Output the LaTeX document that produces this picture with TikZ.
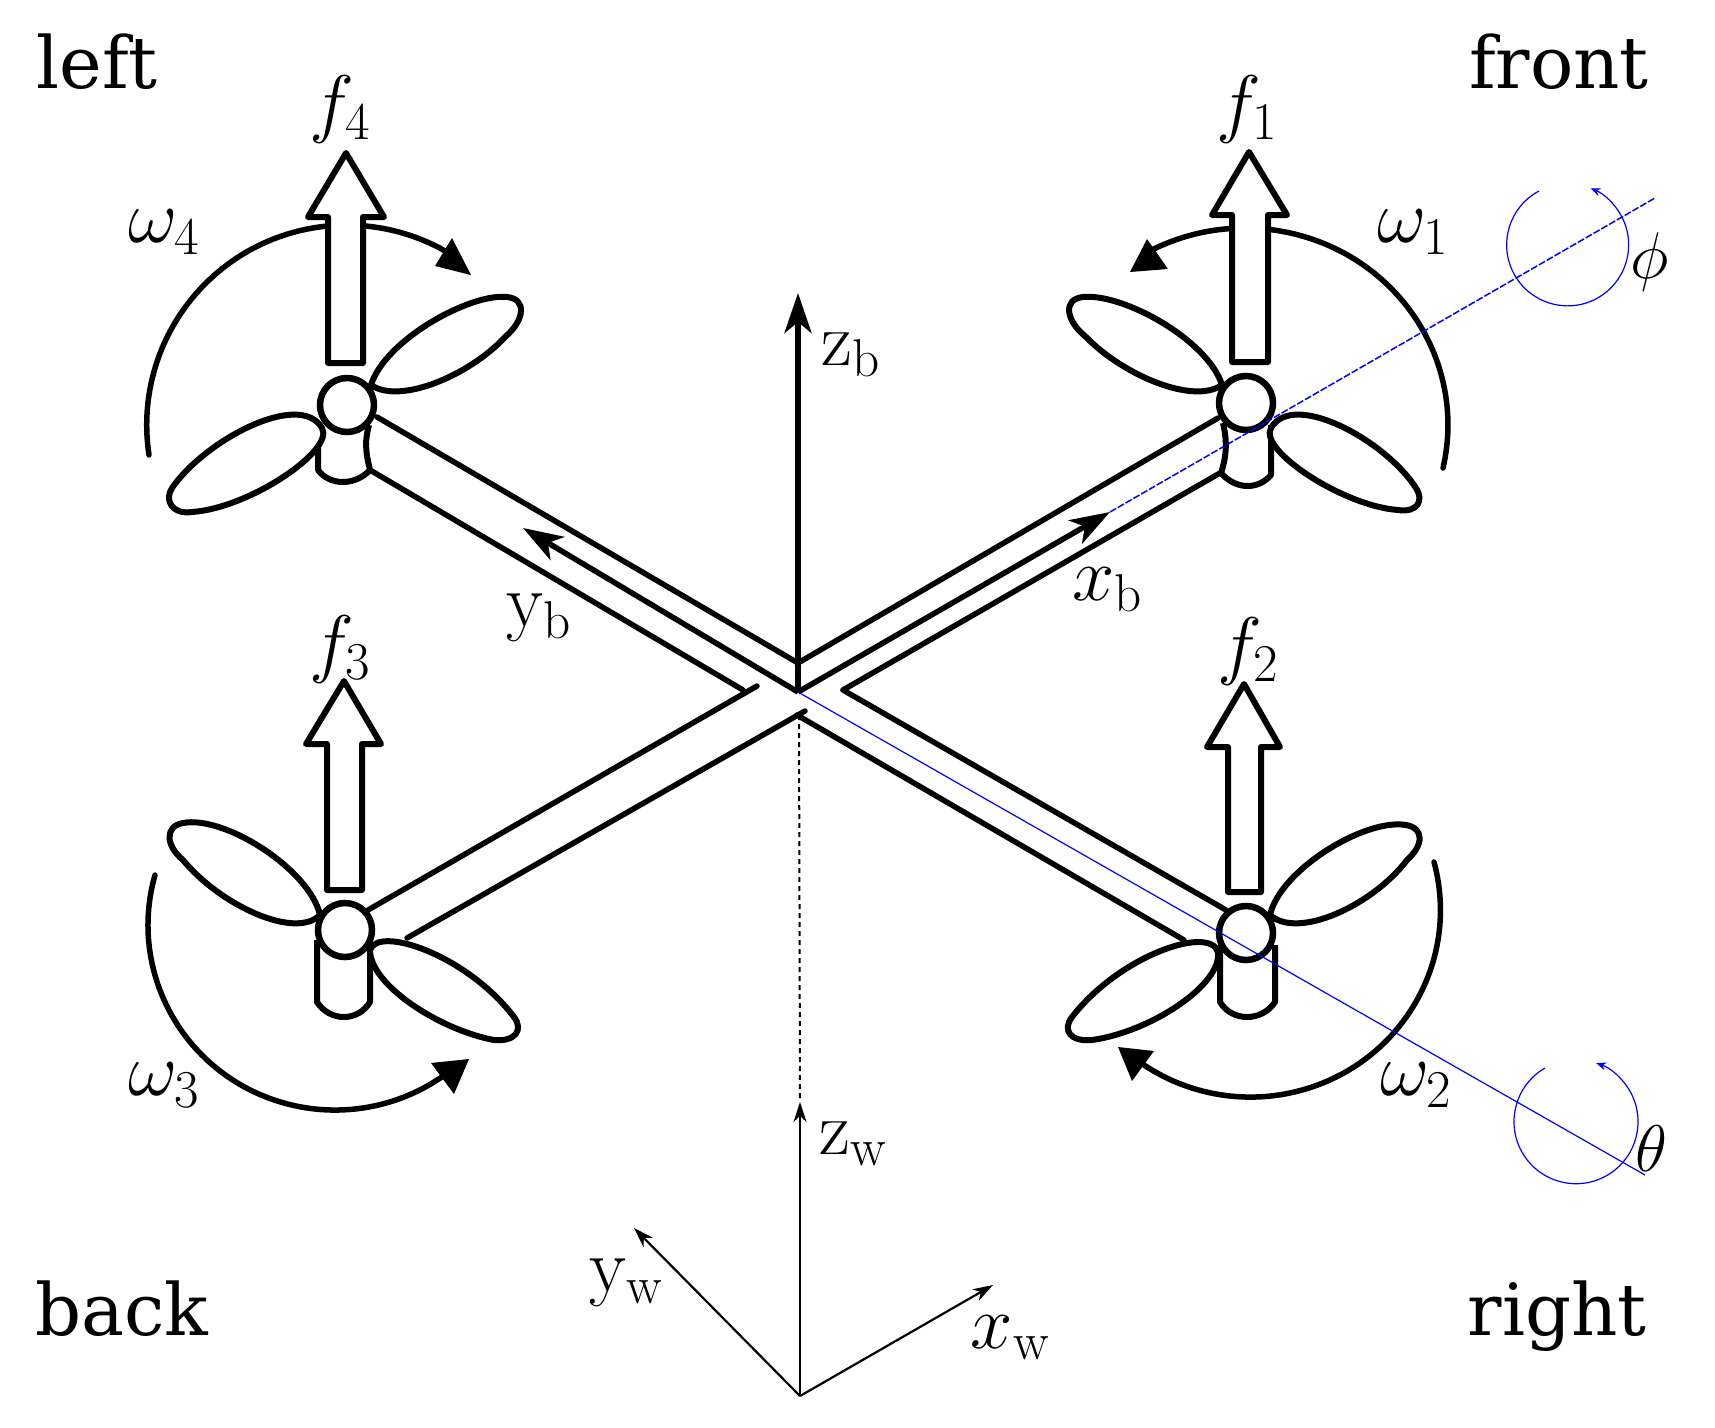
\documentclass[tikz,border=0pt]{standalone}
\usepackage{fix-cm}
\usepackage{fontspec}
\usepackage{amsmath}
\usepackage{amssymb}
\usetikzlibrary{arrows.meta}
\newfontfamily\wordfont{DejaVu Serif}

\begin{document}
\begin{tikzpicture}[x=1pt,y=-1pt,
  frame/.style={line width=5.5pt,line cap=round,line join=round},
  part/.style={line width=6pt,line join=round,fill=white},
  hub/.style={line width=6.5pt,fill=white},
  bodyaxis/.style={line width=5.5pt,-{Stealth[length=40pt,width=27pt,inset=11pt]}},
  worldaxis/.style={line width=2.2pt,-{Stealth[length=20pt,width=13pt,inset=6pt]}},
  spin/.style={blue,line width=1.2pt,-{Stealth[length=10pt,width=8pt]}},
  word/.style={inner sep=0pt,font=\wordfont\fontsize{72}{72}\selectfont},
  sym/.style={inner sep=0pt,font=\fontsize{76}{76}\selectfont},
  angle/.style={inner sep=0pt,font=\fontsize{66}{66}\selectfont}]
\useasboundingbox (0,0) rectangle (1715,1427);

\coordinate (origin) at (798,692);
\coordinate (zbtip) at (798,293);
\coordinate (ybtip) at (523,528);
\coordinate (xbtip) at (1110,512);
\coordinate (worldo) at (800,1396);
\coordinate (zwtip) at (800,1102);
\coordinate (ywtip) at (634,1228);
\coordinate (xwtip) at (993,1285);
\coordinate (phiend) at (1655,198);
\coordinate (thetaend) at (1645,1175);

\draw[frame] (1443,468) arc[start angle=12.6,end angle=-118,x radius=203,y radius=197];
\fill (1130,272) -- (1147,239) -- (1168,269) -- cycle;
\draw[frame] (1434,862) arc[start angle=-14.9,end angle=125,x radius=190,y radius=187];
\fill (1118,1047) -- (1154,1051) -- (1132,1081) -- cycle;
\draw[frame] (155,875) arc[start angle=195.7,end angle=54,x radius=187,y radius=185];
\fill (469,1059) -- (431,1063) -- (454,1094) -- cycle;
\draw[frame] (149,455) arc[start angle=171.4,end angle=300,radius=200];
\fill (471,275) -- (452,238) -- (435,266) -- cycle;

\draw[frame] (798,663) -- (1218,418);
\draw[frame] (843,690) -- (1220,473);
\draw[frame] (798,663) -- (377,417);
\draw[frame] (743,690) -- (370,470);
\draw[frame] (843,690) -- (1226,910);
\draw[frame] (797,715) -- (1184,940);
\draw[frame] (757,686) -- (368,910);
\draw[frame] (805,711) -- (407,938);

\draw[part] (1271,425) -- (1271,475) .. controls (1258,490) and (1236,490) .. (1221,473) .. controls (1227,455) and (1227,440) .. (1223,423);
\draw[part] (318,435) -- (318,470) .. controls (330,486) and (355,486) .. (370,470) .. controls (365,450) and (365,440) .. (369,425);
\draw[part] (317,940) -- (317,1002) .. controls (330,1022) and (358,1022) .. (370,1002) -- (370,945);
\draw[part] (1220,945) -- (1220,1002) .. controls (1232,1022) and (1262,1022) .. (1275,1002) -- (1275,945);

\draw[part] (1222,385) .. controls (1208,340) and (1123,293) .. (1083,297) .. controls (1063,299) and (1065,320) .. (1086,337) .. controls (1123,375) and (1193,405) .. (1222,385) -- cycle;
\draw[part] (1271,428) .. controls (1293,390) and (1385,440) .. (1416,488) .. controls (1424,500) and (1418,513) .. (1398,510) .. controls (1343,506) and (1258,450) .. (1271,428) -- cycle;
\draw[part] (1270,915) .. controls (1280,870) and (1365,818) .. (1406,825) .. controls (1424,828) and (1424,845) .. (1407,860) .. controls (1373,905) and (1298,940) .. (1270,915) -- cycle;
\draw[part] (1218,952) .. controls (1210,925) and (1120,955) .. (1072,1017) .. controls (1062,1030) and (1070,1042) .. (1092,1040) .. controls (1150,1032) and (1222,985) .. (1218,952) -- cycle;
\draw[part] (320,915) .. controls (310,870) and (225,815) .. (183,823) .. controls (165,826) and (165,845) .. (183,860) .. controls (220,905) and (295,940) .. (320,915) -- cycle;
\draw[part] (370,950) .. controls (378,925) and (467,955) .. (514,1017) .. controls (524,1030) and (515,1042) .. (494,1040) .. controls (440,1030) and (370,985) .. (370,950) -- cycle;
\draw[part] (371,385) .. controls (385,340) and (470,293) .. (507,297) .. controls (527,299) and (525,320) .. (505,337) .. controls (470,375) and (400,405) .. (371,385) -- cycle;
\draw[part] (322,428) .. controls (300,390) and (205,440) .. (172,488) .. controls (164,500) and (172,515) .. (192,512) .. controls (250,508) and (335,450) .. (322,428) -- cycle;

\draw[hub] (1246,403) circle (27);
\draw[hub] (1246,933) circle (27);
\draw[hub] (345,930) circle (27);
\draw[hub] (347,405) circle (27);

\draw[part] (1232,362) -- (1232,215) -- (1212,215) -- (1249,152) -- (1287,215) -- (1268,215) -- (1268,362) -- cycle;
\draw[part] (1228,892) -- (1228,747) -- (1207,747) -- (1244,684) -- (1280,747) -- (1261,747) -- (1261,892) -- cycle;
\draw[part] (327,890) -- (327,744) -- (306,744) -- (344,681) -- (381,744) -- (362,744) -- (362,890) -- cycle;
\draw[part] (328,363) -- (328,217) -- (308,217) -- (346,153) -- (384,217) -- (363,217) -- (363,363) -- cycle;

\draw[bodyaxis] (origin) -- (zbtip);
\draw[bodyaxis] (origin) -- (ybtip);
\draw[bodyaxis] (origin) -- (xbtip);

\draw[line width=2pt,dash pattern=on 5pt off 4pt] (799,715) -- (zwtip);
\draw[worldaxis] (worldo) -- (zwtip);
\draw[worldaxis] (worldo) -- (ywtip);
\draw[worldaxis] (worldo) -- (xwtip);

\draw[blue,line width=1.5pt,dash pattern=on 7pt off 2pt] (xbtip) -- (phiend);
\draw[blue,line width=1.2pt] (origin) -- (thetaend);
\draw[spin] (1539,191) arc[start angle=-118,end angle=-428,radius=61];
\draw[spin] (1545,1068) arc[start angle=-120,end angle=-431,radius=62];

\node[word] (left) at (97,62) {left};
\node[word] (front) at (1559,62) {front};
\node[word] (back) at (122,1309) {back};
\node[word] (right) at (1557,1316) {right};
\node[sym] (f1) at (1247,109) {$f_1$};
\node[sym] (f2) at (1248,651) {$f_2$};
\node[sym] (f3) at (340,649) {$f_3$};
\node[sym] (f4) at (340,109) {$f_4$};
\node[sym] (w1) at (1413,232) {$\omega_1$};
\node[sym] (w2) at (1416,1085) {$\omega_2$};
\node[sym] (w3) at (164,1085) {$\omega_3$};
\node[sym] (w4) at (164,232) {$\omega_4$};
\node[sym] (zb) at (851,355) {$\mathrm{z}_{\mathrm{b}}$};
\node[sym] (yb) at (539,618) {$\mathrm{y}_{\mathrm{b}}$};
\node[sym] (xb) at (1107,590) {$x_{\mathrm{b}}$};
\node[sym] (zw) at (853,1144) {$\mathrm{z}_{\mathrm{w}}$};
\node[sym] (yw) at (626,1283) {$\mathrm{y}_{\mathrm{w}}$};
\node[sym] (xw) at (1010,1338) {$x_{\mathrm{w}}$};
\node[angle] (phi) at (1650,262) {$\phi$};
\node[angle] (theta) at (1651,1149) {$\theta$};
\end{tikzpicture}
\end{document}
